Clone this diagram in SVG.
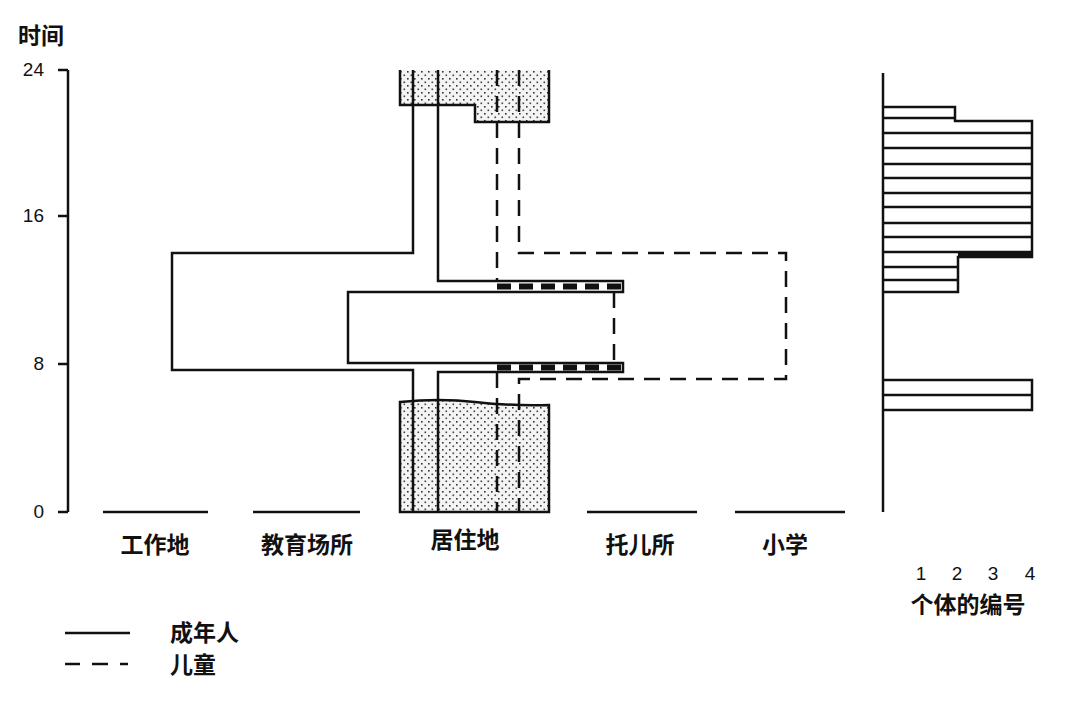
<svg xmlns="http://www.w3.org/2000/svg" width="1080" height="702" viewBox="0 0 1080 702">
<style>
.t{font-family:"Noto Sans CJK SC","Liberation Sans",sans-serif;font-size:23px;font-weight:bold;fill:#111}
.n{font-family:"Liberation Sans",sans-serif;font-size:19px;fill:#111}
.s{fill:none;stroke:#111;stroke-width:2.5}
.d{fill:none;stroke:#111;stroke-width:2.5;stroke-dasharray:16 10}
.b{fill:none;stroke:#111;stroke-width:2.5}
.f{fill:url(#dots);stroke:none}
</style>
<defs>
<pattern id="dots" width="7" height="7" patternUnits="userSpaceOnUse"><rect width="7" height="7" fill="#f4f4f4"/><rect x="1" y="1" width="1.6" height="1.6" fill="#333"/><rect x="4.5" y="4.5" width="1.6" height="1.6" fill="#444"/></pattern>
</defs>
<rect width="1080" height="702" fill="#fff"/>
<g id="axis">
<path class="s" d="M68,70 V512 M58,70 H68 M58,216 H68 M58,364 H68 M58,512 H68"/>
<text class="t" x="18" y="44">时间</text>
<text class="n" x="44" y="76" text-anchor="end">24</text>
<text class="n" x="44" y="222" text-anchor="end">16</text>
<text class="n" x="44" y="370" text-anchor="end">8</text>
<text class="n" x="44" y="518" text-anchor="end">0</text>
</g>
<g id="home-blocks">
<path class="f" d="M400,70 H549 V122 H475 V105 H400 Z"/>
<path d="M400,70 V105 H475 V122 H549 V70" class="s"/>
<path class="f" d="M400,402 Q440,398 475,402 T549,405 V512 H400 Z"/>
<path class="s" d="M400,402 Q440,398 475,402 T549,405 V512 H400 Z"/>
</g>
<g id="connectors">
<path class="s" d="M413,70 V253 H172 V370 H413 V512"/>
<path class="s" d="M438,70 V281 H623 V292 H348 V363 H623 V372 H438 V512"/>
<path class="d" d="M497,70 V281 M497,372 V512"/>
<path class="d" d="M519,70 V253 H786 V379 H519 V512"/>
<path class="d" d="M614,292 V363"/>
<path d="M497,286.5 H623 M497,367.5 H623" stroke="#111" stroke-width="6" stroke-dasharray="14 8" fill="none"/>
</g>
<g id="baselines">
<path class="s" d="M103,512 H208 M253,512 H360 M587,512 H697 M735,512 H845"/>
</g>
<g id="labels">
<text class="t" x="155" y="553" text-anchor="middle">工作地</text>
<text class="t" x="307" y="553" text-anchor="middle">教育场所</text>
<text class="t" x="465" y="548" text-anchor="middle">居住地</text>
<text class="t" x="640" y="553" text-anchor="middle">托儿所</text>
<text class="t" x="785" y="553" text-anchor="middle">小学</text>
</g>
<g id="histogram">
<path class="s" d="M883,73 V512"/>
<path class="b" d="M883,107 H955 V121 H1032 V257 H958 V292 H883"/>
<path class="b" d="M883,118 H955 M883,133 H1032 M883,148 H1032 M883,164 H1032 M883,178 H1032 M883,193 H1032 M883,207 H1032 M883,223 H1032 M883,237 H1032 M883,252 H1032 M883,267 H958 M883,280 H958"/>
<path d="M958,255 H1032" stroke="#111" stroke-width="4"/>
<path class="b" d="M883,380 H1032 V410 H883 M883,395 H1032"/>
<text class="n" x="921" y="580" text-anchor="middle">1</text>
<text class="n" x="957" y="580" text-anchor="middle">2</text>
<text class="n" x="993" y="580" text-anchor="middle">3</text>
<text class="n" x="1030" y="580" text-anchor="middle">4</text>
<text class="t" x="968" y="613" text-anchor="middle">个体的编号</text>
</g>
<g id="legend">
<path class="s" d="M65,633 H130"/>
<path d="M65,664 H80 M92,664 H108 M120,664 H128" stroke="#111" stroke-width="2.5"/>
<text class="t" x="170" y="641">成年人</text>
<text class="t" x="170" y="673">儿童</text>
</g>
</svg>
